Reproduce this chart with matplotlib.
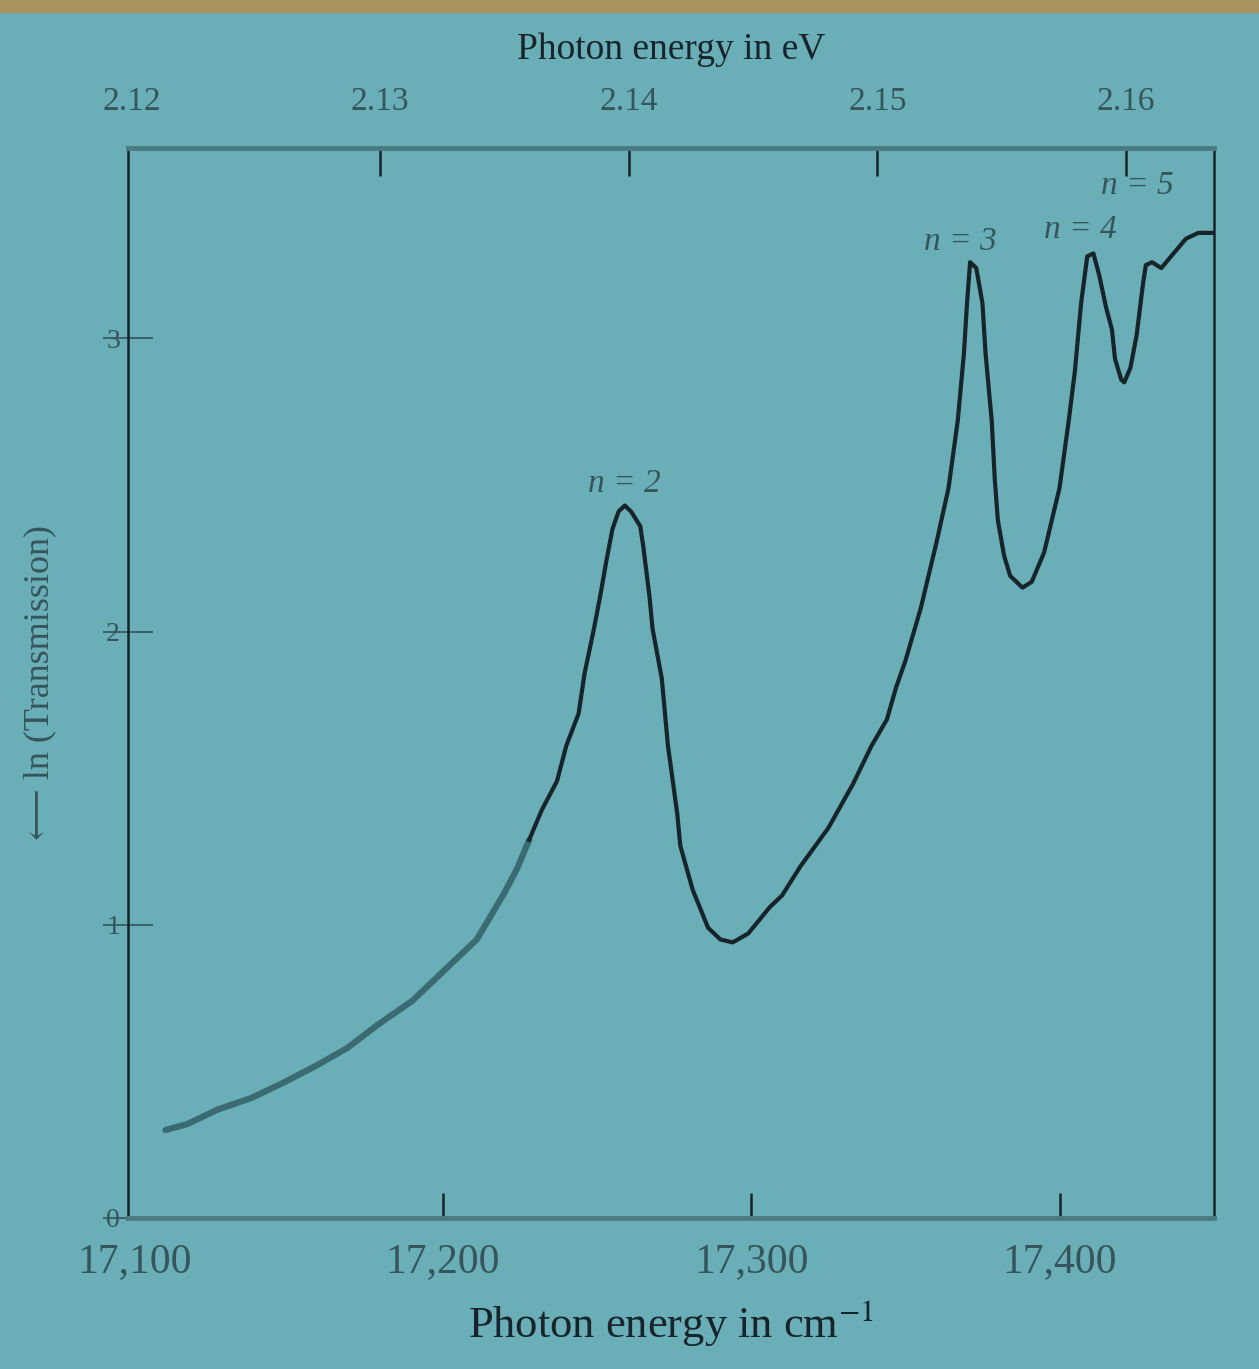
import numpy as np
import matplotlib.pyplot as plt
from matplotlib.patches import Rectangle

plt.rcParams['font.family'] = ['Liberation Serif', 'DejaVu Serif']
plt.rcParams['mathtext.fontset'] = 'stix'

# Дані: хвильове число (см^-1) та -ln(пропускання)
хвильове_число = [17110, 17117, 17127, 17138, 17148, 17159, 17169, 17179,
                  17190, 17200, 17211, 17220, 17224, 17228, 17232, 17237,
                  17240, 17244, 17246, 17249, 17251, 17253, 17255, 17257,
                  17259, 17261, 17264, 17265, 17267, 17268, 17271, 17273,
                  17276, 17277, 17281, 17286, 17290, 17294, 17299, 17306,
                  17310, 17316, 17325, 17333, 17339, 17344, 17347, 17350,
                  17355, 17360, 17364, 17367, 17369, 17370, 17371, 17373,
                  17375, 17376, 17378, 17379, 17380, 17382, 17384, 17388,
                  17391, 17395, 17400, 17403, 17405, 17407, 17409, 17411,
                  17413, 17415, 17417, 17418, 17420, 17421, 17423, 17425,
                  17427, 17428, 17430, 17433, 17437, 17441, 17445, 17450]
ln_пропускання = [0.30, 0.32, 0.37, 0.41, 0.46, 0.52, 0.58, 0.66,
                  0.74, 0.84, 0.95, 1.11, 1.19, 1.29, 1.39, 1.49,
                  1.61, 1.72, 1.86, 2.01, 2.12, 2.24, 2.35, 2.41,
                  2.43, 2.41, 2.36, 2.29, 2.12, 2.01, 1.84, 1.61,
                  1.38, 1.27, 1.12, 0.99, 0.95, 0.94, 0.97, 1.06,
                  1.10, 1.20, 1.33, 1.48, 1.61, 1.70, 1.81, 1.90,
                  2.08, 2.30, 2.49, 2.72, 2.95, 3.12, 3.26, 3.24,
                  3.12, 2.95, 2.72, 2.52, 2.38, 2.26, 2.19, 2.15,
                  2.17, 2.27, 2.49, 2.72, 2.89, 3.12, 3.28, 3.29,
                  3.21, 3.11, 3.03, 2.93, 2.86, 2.85, 2.90, 3.01,
                  3.18, 3.25, 3.26, 3.24, 3.29, 3.34, 3.36, 3.36]

# Екситонні піки
піки_n = ['n = 2', 'n = 3', 'n = 4', 'n = 5']
піки_x = [17259, 17371, 17410, 17429]
піки_y = [2.43, 3.26, 3.29, 3.26]
зсув_підпису = [(0, 16), (-7, 15), (-7, 17), (-8, 55)]

x_тики = [17100, 17200, 17300, 17400]
x_підписи = ['17,100', '17,200', '17,300', '17,400']
y_тики = [0, 1, 2, 3]
eV_тики = [2.12, 2.13, 2.14, 2.15, 2.16]

фон = '#6aaeb8'
чорнило = '#17242a'
бліде = '#35555b'

fig = plt.figure(figsize=(12.59, 13.69), dpi=100, facecolor=фон)
fig.patches.append(Rectangle((0, 0.991), 1, 0.009, transform=fig.transFigure,
                             color='#a8925f', zorder=0))
ax = fig.add_axes([0.102, 0.1103, 0.862, 0.7817])
ax.set_facecolor(фон)

межа = 14
ax.plot(хвильове_число[:межа], ln_пропускання[:межа], color='#3b6b72', lw=4.5,
        solid_capstyle='round', solid_joinstyle='round')
ax.plot(хвильове_число[межа - 1:], ln_пропускання[межа - 1:], color=чорнило, lw=3,
        solid_joinstyle='round')

for мітка, px, py, зсув in zip(піки_n, піки_x, піки_y, зсув_підпису):
    ax.annotate(мітка, xy=(px, py), xytext=зсув, textcoords='offset points',
                ha='center', va='center', fontsize=24, color=бліде,
                fontstyle='italic')

ax.set_xlim(17098, 17450)
ax.set_ylim(0, 3.65)

ax.set_xticks(x_тики)
ax.set_xticklabels(x_підписи)
ax.set_yticks(y_тики)
ax.tick_params(axis='x', direction='in', length=18, width=1.8, pad=18,
               labelsize=30, colors=чорнило, labelcolor=бліде)
ax.tick_params(axis='y', direction='inout', length=36, width=1.2, pad=-12,
               labelsize=20, colors=бліде, labelcolor=бліде)
# риска 17,100 лежить у куті рамки
ax.xaxis.get_major_ticks()[0].tick1line.set_visible(False)

for сторона in ['left', 'right']:
    ax.spines[сторона].set_color(чорнило)
    ax.spines[сторона].set_linewidth(1.8)
for сторона in ['top', 'bottom']:
    ax.spines[сторона].set_color('#4a7b82')
    ax.spines[сторона].set_linewidth(3.5)

ax.set_xlabel('Photon energy in cm$^{-1}$', fontsize=32, color=чорнило, labelpad=12)
ax.set_ylabel('⟵ ln (Transmission)', fontsize=26, color=бліде, labelpad=34)

# Верхня вісь: енергія фотона в еВ
верх = ax.secondary_xaxis('top', functions=(lambda k: k / 8065.54,
                                            lambda e: e * 8065.54))
верх.set_xticks(eV_тики)
верх.set_xticklabels([f'{e:.2f}' for e in eV_тики])
верх.tick_params(direction='in', length=20, width=1.8, pad=22, labelsize=24,
                 colors=чорнило, labelcolor=бліде)
верх.xaxis.get_major_ticks()[0].tick2line.set_visible(False)
верх.spines['top'].set_visible(False)
верх.set_xlabel('Photon energy in eV', fontsize=27, color=чорнило, labelpad=20)

fig.savefig('out.png', dpi=100, facecolor=фон)
